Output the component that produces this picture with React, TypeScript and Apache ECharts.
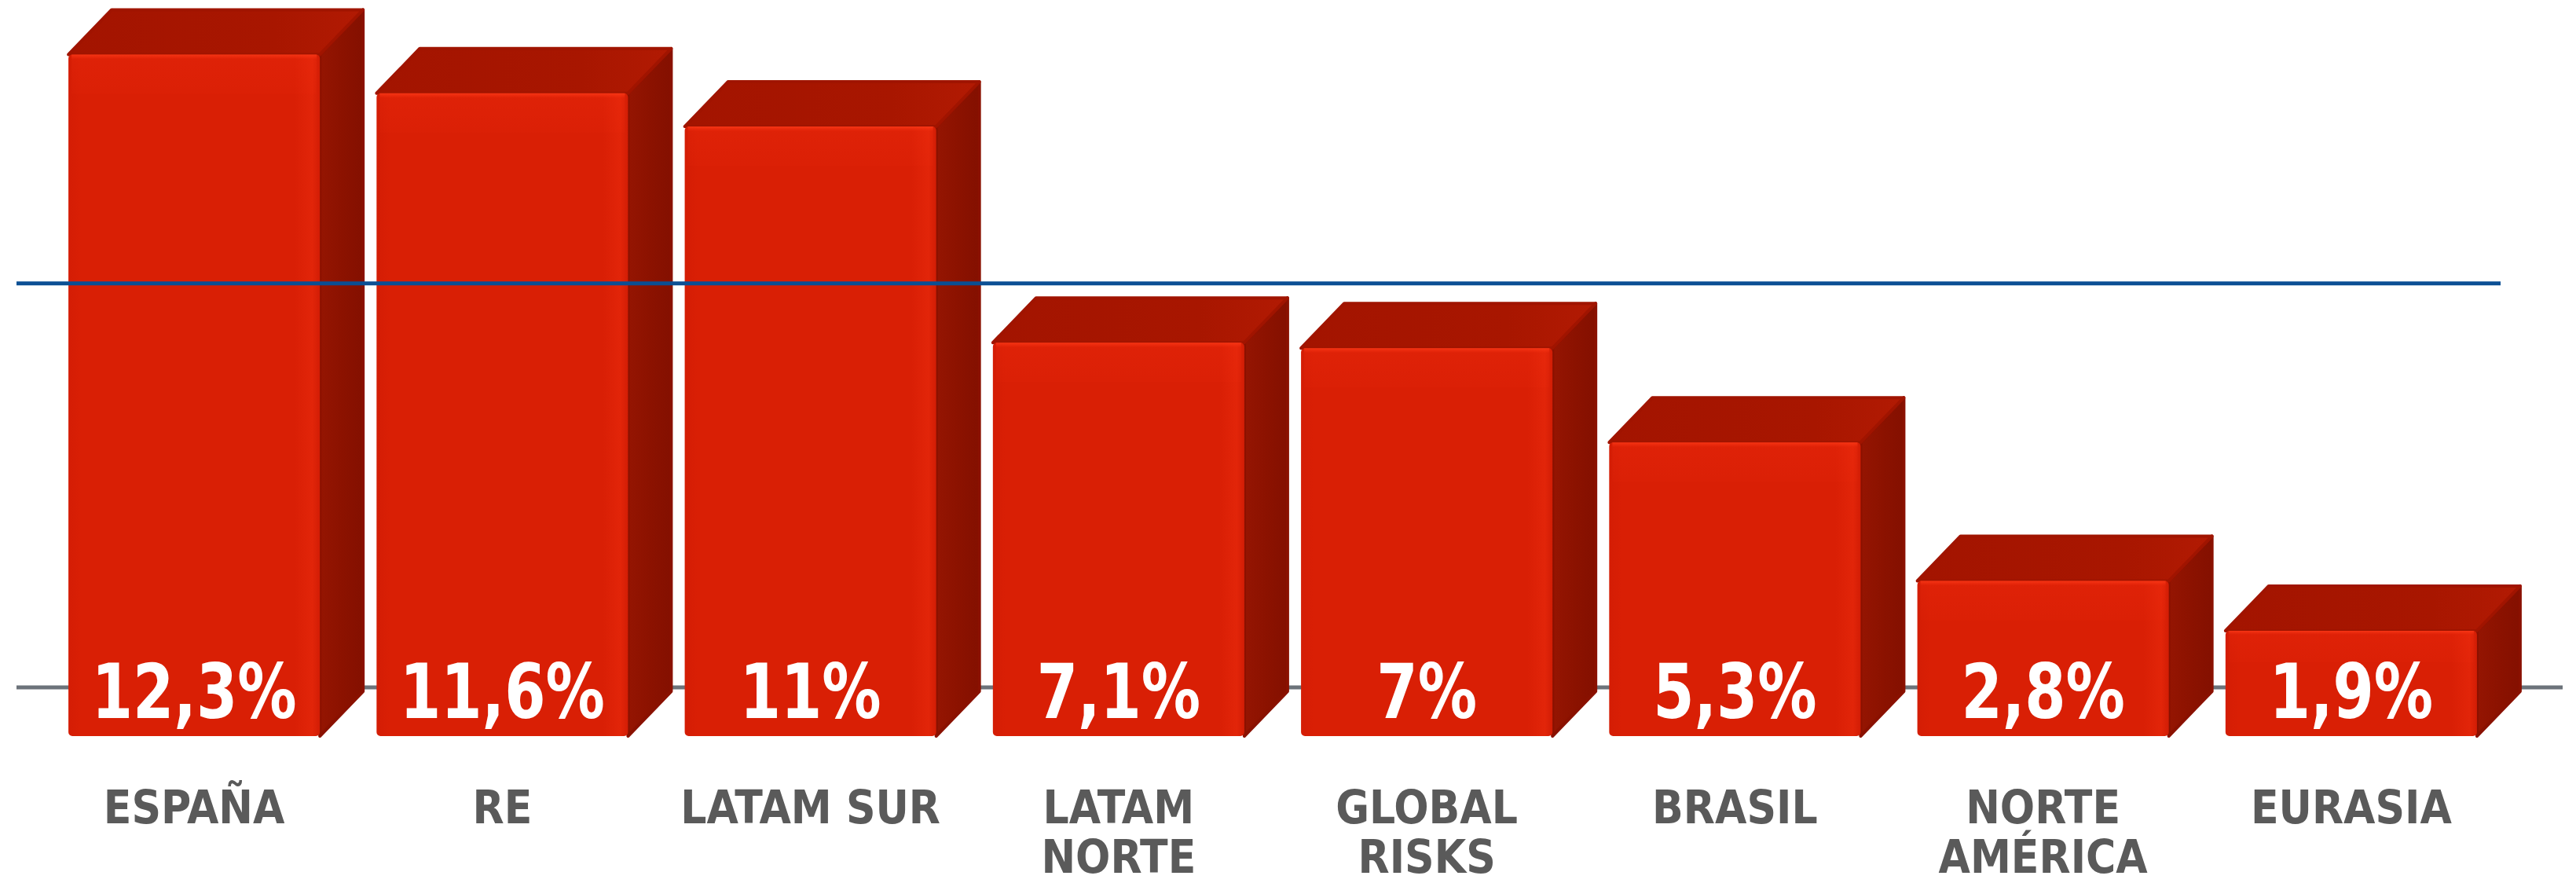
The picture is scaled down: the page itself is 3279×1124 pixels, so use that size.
import React, { useEffect, useRef } from "react";
import * as echarts from "echarts";

// ---- data ----
const categories = [
  "ESPAÑA",
  "RE",
  "LATAM SUR",
  "LATAM\nNORTE",
  "GLOBAL\nRISKS",
  "BRASIL",
  "NORTE\nAMÉRICA",
  "EURASIA",
];
const values = [12.3, 11.6, 11, 7.1, 7, 5.3, 2.8, 1.9];
const valueLabels = ["12,3%", "11,6%", "11%", "7,1%", "7%", "5,3%", "2,8%", "1,9%"];
const averageLine = [7.36];

// ---- style constants ----
const DEPTH_X = 55;
const DEPTH_Y = 57;
const BAR_RATIO = 0.816;
const NARROW = '"Liberation Sans Narrow", "Arial Narrow", "DejaVu Sans Condensed", sans-serif';

export default function App() {
  const ref = useRef<HTMLDivElement>(null);

  useEffect(() => {
    document.body.style.margin = "0";
    if (!ref.current) return;
    const chart = echarts.init(ref.current, undefined, { renderer: "svg" });

    const barRender = (params: any, api: any) => {
      const idx = api.value(0);
      const val = api.value(1);
      const top = api.coord([idx, val]);
      const bot = api.coord([idx, 0]);
      const band = api.size([1, 0])[0];
      const w = band * BAR_RATIO;
      const xL = top[0] - w / 2;
      const xR = top[0] + w / 2;
      const yT = top[1];
      const yB = bot[1];
      const h = yB - yT;

      const sideFace = {
        type: "polygon",
        shape: {
          points: [
            [xR, yT],
            [xR + DEPTH_X, yT - DEPTH_Y],
            [xR + DEPTH_X, yB - DEPTH_Y],
            [xR, yB],
          ],
        },
        style: {
          fill: new echarts.graphic.LinearGradient(0, 0, 1, 0, [
            { offset: 0, color: "#951502" },
            { offset: 0.5, color: "#8c1200" },
            { offset: 1, color: "#841000" },
          ]),
          stroke: "#8a1100",
          lineWidth: 4,
          lineJoin: "round",
        },
      };
      const topFace = {
        type: "polygon",
        shape: {
          points: [
            [xL, yT],
            [xL + DEPTH_X, yT - DEPTH_Y],
            [xR + DEPTH_X, yT - DEPTH_Y],
            [xR, yT],
          ],
        },
        style: {
          fill: new echarts.graphic.LinearGradient(0, 0, 1, 0, [
            { offset: 0, color: "#a31400" },
            { offset: 0.7, color: "#a81600" },
            { offset: 1, color: "#b21a03" },
          ]),
          stroke: "#a01400",
          lineWidth: 4,
          lineJoin: "round",
        },
      };
      const frontFace = {
        type: "rect",
        shape: { x: xL, y: yT, width: w, height: h, r: 5 },
        style: {
          fill: new echarts.graphic.LinearGradient(0, 0, 1, 0, [
            { offset: 0, color: "#d41d05" },
            { offset: 0.05, color: "#d91f05" },
            { offset: 0.9, color: "#d91f05" },
            { offset: 0.97, color: "#e22509" },
            { offset: 1, color: "#d21d05" },
          ]),
        },
      };
      const topBand = {
        type: "rect",
        shape: { x: xL + 4, y: yT, width: w - 8, height: Math.min(50, h * 0.3) },
        style: {
          fill: new echarts.graphic.LinearGradient(0, 0, 0, 1, [
            { offset: 0, color: "rgba(255,60,25,0.75)" },
            { offset: 0.12, color: "rgba(255,50,20,0.15)" },
            { offset: 1, color: "rgba(255,50,20,0.05)" },
          ]),
        },
      };
      const label = {
        type: "text",
        x: top[0],
        y: yB - 57,
        scaleX: 0.87,
        style: {
          text: valueLabels[params.dataIndex],
          x: 0,
          y: 0,
          fill: "#ffffff",
          fontSize: 96,
          fontWeight: "bold",
          fontFamily: NARROW,
          align: "center",
          verticalAlign: "middle",
        },
      };
      return {
        type: "group",
        children: [sideFace, topFace, frontFace, topBand, label],
      };
    };

    const option: any = {
      animation: false,
      backgroundColor: "#ffffff",
      grid: { left: 51, right: 90, top: 20, bottom: 187 },
      xAxis: {
        type: "category",
        data: categories,
        axisLine: { show: false },
        axisTick: { show: false },
        splitLine: { show: false },
        axisLabel: {
          interval: 0,
          margin: 59,
          color: "#5a5a5a",
          fontSize: 58,
          lineHeight: 63,
          fontWeight: "bold",
          fontFamily: NARROW,
        },
      },
      yAxis: {
        type: "value",
        min: 0,
        max: 13,
        show: false,
        splitLine: { show: false },
      },
      series: [
        {
          type: "custom",
          name: "base",
          silent: true,
          z: 1,
          data: [[0, 0]],
          encode: { x: 0, y: 1 },
          renderItem: (params: any, api: any) => {
            const p = api.coord([0, 0]);
            const y = p[1] - 62;
            return {
              type: "line",
              shape: { x1: 21, y1: y, x2: 3262, y2: y },
              style: { stroke: "#6c737a", lineWidth: 5 },
            };
          },
        },
        {
          type: "custom",
          name: "bars",
          z: 2,
          data: values.map((v, i) => [i, v]),
          encode: { x: 0, y: 1 },
          renderItem: barRender,
        },
        {
          type: "custom",
          name: "average",
          silent: true,
          z: 3,
          data: averageLine.map((v) => [0, v]),
          encode: { x: 0, y: 1 },
          renderItem: (params: any, api: any) => {
            const p = api.coord([0, api.value(1)]);
            const y = p[1] - DEPTH_Y;
            return {
              type: "line",
              shape: { x1: 21, y1: y, x2: 3183, y2: y },
              style: { stroke: "#0b4f94", lineWidth: 5 },
            };
          },
        },
      ],
    };

    chart.setOption(option);
    return () => chart.dispose();
  }, []);

  return <div ref={ref} style={{ width: 3279, height: 1124 }} />;
}
